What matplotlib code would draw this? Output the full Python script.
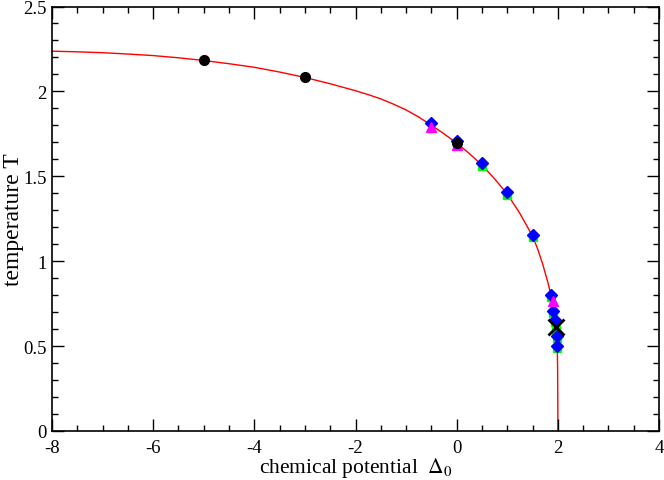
import numpy as np
import matplotlib
matplotlib.use('Agg')
import matplotlib.pyplot as plt
from matplotlib.ticker import MultipleLocator, FuncFormatter

plt.rcParams['font.family'] = ['Liberation Serif', 'DejaVu Serif']
plt.rcParams['mathtext.fontset'] = 'stix'
plt.rcParams['axes.unicode_minus'] = False

# phase boundary
curve_d = [-8, -7.5, -7, -6.5, -6, -5.5, -5, -4.5, -4, -3.5, -3, -2.5, -2, -1.75,
           -1.5, -1.25, -1, -0.75, -0.5, -0.25, 0, 0.25, 0.5, 0.75, 1, 1.25, 1.5,
           1.6, 1.7, 1.8, 1.87, 1.92, 1.95, 1.97, 1.982, 1.99, 1.995, 1.998, 2.0, 2.0]
curve_t = [2.237, 2.233, 2.228, 2.220, 2.211, 2.198, 2.182, 2.163, 2.142, 2.114,
           2.082, 2.045, 2.004, 1.981, 1.956, 1.925, 1.891, 1.849, 1.801, 1.750,
           1.696, 1.634, 1.566, 1.485, 1.396, 1.281, 1.148, 1.073, 0.983, 0.878,
           0.794, 0.714, 0.651, 0.591, 0.54, 0.47, 0.38, 0.25, 0.10, 0.0]

# black circles
circ_d = [-5, -3, 0]
circ_t = [2.182, 2.082, 1.695]

# blue diamonds
dia_d = [-0.5, 0, 0.5, 1, 1.5, 1.86, 1.91, 1.94, 1.975, 1.99]
dia_t = [1.815, 1.71, 1.58, 1.41, 1.153, 0.802, 0.708, 0.655, 0.558, 0.498]

# green squares
sq_d = [0.5, 1, 1.5, 1.86, 1.91, 1.94, 1.96, 1.975, 1.99]
sq_t = [1.562, 1.392, 1.145, 0.79, 0.695, 0.64, 0.595, 0.545, 0.488]

# magenta triangles
tri_d = [-0.5, 0, 1.9]
tri_t = [1.792, 1.682, 0.767]

# tricritical point
tcp_d = [1.96]
tcp_t = [0.61]

fig = plt.figure(figsize=(6.64, 4.81), dpi=100)
ax = fig.add_axes([0.0783, 0.1019, 0.9142, 0.8825])

ax.plot(curve_d, curve_t, color='red', lw=1.0, zorder=1)
ax.plot(sq_d, sq_t, ls='none', marker='s', ms=5.5, color='#00ff00', zorder=2)
ax.plot(dia_d, dia_t, ls='none', marker='D', ms=6, color='blue', zorder=3)
ax.plot(tri_d, tri_t, ls='none', marker='^', ms=6.5, color='magenta', zorder=4)
ax.plot(circ_d, circ_t, ls='none', marker='o', ms=7, color='black', zorder=5)
ax.plot(tcp_d, tcp_t, ls='none', marker='x', ms=12, mew=2, color='black', zorder=6)

ax.set_xlim(-8, 4)
ax.set_ylim(0, 2.5)
ax.xaxis.set_major_locator(MultipleLocator(2))
ax.xaxis.set_minor_locator(MultipleLocator(0.5))
ax.yaxis.set_major_locator(MultipleLocator(0.5))
ax.yaxis.set_minor_locator(MultipleLocator(0.1))
fmt = FuncFormatter(lambda v, p: '%g' % v)
ax.xaxis.set_major_formatter(fmt)
ax.yaxis.set_major_formatter(fmt)

ax.tick_params(which='both', direction='in', top=True, right=True, labelsize=13.5)
ax.tick_params(which='major', length=8.5, width=1.0)
ax.tick_params(axis='x', which='major', pad=6)
ax.tick_params(axis='y', which='major', pad=4)
ax.tick_params(which='minor', length=4.3, width=1.0)
for s in ax.spines.values():
    s.set_linewidth(1.2)

ax.set_xlabel(r'chemical potential  $\Delta_0$', fontsize=15.5, va='top')
ax.xaxis.set_label_coords(0.5, -0.057)
ax.set_ylabel('temperature T', fontsize=17)
ax.yaxis.set_label_coords(-0.046, 0.5)

fig.savefig('out.png', dpi=100)
